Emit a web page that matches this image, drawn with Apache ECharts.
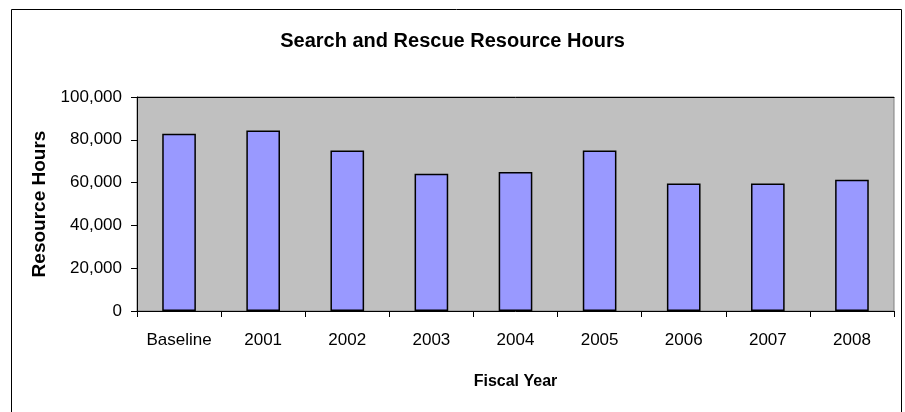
<!DOCTYPE html>
<html>
<head>
<meta charset="utf-8">
<script src="https://cdn.jsdelivr.net/npm/echarts@6/dist/echarts.min.js"></script>
<style>
  html, body { margin: 0; padding: 0; background: #fff; }
  #chart { width: 905px; height: 412px; }
</style>
</head>
<body>
<div id="chart"></div>
<script>
// categories along the x axis
const years = ['Baseline', '2001', '2002', '2003', '2004', '2005', '2006', '2007', '2008']
// resource hours per year
const hours = [82800, 84400, 75000, 64100, 65000, 75000, 59600, 59600, 61300]
// y axis ticks
const yMin = 0
const yMax = 100000
const yStep = 20000

const myChart = echarts.init(document.getElementById('chart'))

const option = {
  animation: false,
  textStyle: { fontFamily: '"Liberation Sans", Arial, sans-serif' },
  title: {
    text: 'Search and Rescue Resource Hours',
    left: 'center',
    top: 26,
    textStyle: { fontSize: 20, fontWeight: 'bold', color: '#000' }
  },
  // outer chart frame
  graphic: [
    {
      type: 'rect',
      shape: { x: 11.5, y: 9.5, width: 890, height: 420 },
      style: { fill: 'none', stroke: '#000', lineWidth: 1 },
      silent: true
    }
  ],
  grid: {
    left: 137,
    right: 11,
    top: 97,
    bottom: 101,
    show: true,
    backgroundColor: '#C0C0C0',
    borderColor: '#808080',
    borderWidth: 1
  },
  xAxis: [
    {
      type: 'category',
      data: years,
      boundaryGap: true,
      name: 'Fiscal Year',
      nameLocation: 'middle',
      nameGap: 63,
      nameTextStyle: { fontSize: 16, fontWeight: 'bold', color: '#000' },
      axisLine: { show: true, lineStyle: { color: '#000', width: 1 } },
      axisTick: { show: true, length: 6, lineStyle: { color: '#000' } },
      axisLabel: { fontSize: 17, color: '#000', margin: 21, interval: 0 }
    },
    {
      // top edge of the plot area
      type: 'category',
      data: years,
      position: 'top',
      axisLine: { show: true, lineStyle: { color: '#000', width: 1 } },
      axisTick: { show: false },
      axisLabel: { show: false }
    }
  ],
  yAxis: {
    type: 'value',
    min: yMin,
    max: yMax,
    interval: yStep,
    name: 'Resource Hours',
    nameLocation: 'middle',
    nameGap: 84,
    nameTextStyle: { fontSize: 19, fontWeight: 'bold', color: '#000' },
    axisLine: { show: true, lineStyle: { color: '#000', width: 1 } },
    axisTick: { show: true, length: 6, lineStyle: { color: '#000' } },
    axisLabel: {
      fontSize: 17,
      color: '#000',
      margin: 15,
      formatter: (v) => v.toLocaleString('en-US')
    },
    splitLine: { show: false }
  },
  series: [
    {
      type: 'bar',
      data: hours,
      barWidth: '40%',
      itemStyle: {
        color: '#9999FF',
        borderColor: '#000',
        borderWidth: 1.5
      }
    }
  ]
}

myChart.setOption(option)
</script>
</body>
</html>
